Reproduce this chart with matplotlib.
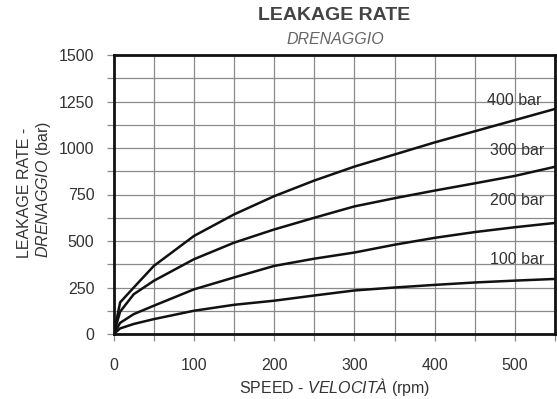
import matplotlib
matplotlib.use("Agg")
import matplotlib.pyplot as plt
import numpy as np

speed = [0, 8, 25, 50, 100, 150, 200, 250, 300, 350, 400, 450, 500, 550]
leak_400 = [0, 170, 250, 366, 527, 643, 741, 825, 900, 965, 1030, 1090, 1150, 1210]
leak_300 = [0, 120, 214, 286, 402, 491, 562, 625, 686, 730, 771, 810, 850, 899]
leak_200 = [0, 60, 107, 152, 240, 304, 366, 405, 438, 480, 517, 548, 574, 597]
leak_100 = [0, 30, 54, 80, 125, 157, 179, 207, 234, 250, 264, 277, 287, 296]
series_labels = ["400 bar", "300 bar", "200 bar", "100 bar"]
label_pos = [(499, 1253), (503, 984), (503, 720), (503, 398)]
x_ticks = [0, 100, 200, 300, 400, 500]
y_ticks = [0, 250, 500, 750, 1000, 1250, 1500]

plt.rcParams['font.family'] = ['Liberation Sans', 'DejaVu Sans']
plt.rcParams['mathtext.fontset'] = 'custom'
plt.rcParams['mathtext.it'] = 'Liberation Sans:italic'
plt.rcParams['mathtext.rm'] = 'Liberation Sans'

W, H = 557, 399
fig = plt.figure(figsize=(W/100, H/100), dpi=100)
L, R, T, B = 113.7, 555, 55, 334
ax = fig.add_axes([L/W, 1-B/H, (R-L)/W, (B-T)/H])

for ys in [leak_400, leak_300, leak_200, leak_100]:
    ax.plot(speed, ys, color='#111111', lw=1.8, zorder=3, solid_joinstyle='round')

for lab, (x, y) in zip(series_labels, label_pos):
    ax.text(x, y, lab, fontsize=11.5, ha='center', va='center', color='#333333', zorder=4)

ax.set_xlim(0, 550)
ax.set_ylim(0, 1500)
ax.set_xticks(x_ticks)
ax.set_yticks(y_ticks)
ax.set_xticks(np.arange(0, 551, 50), minor=True)
ax.set_yticks(np.arange(0, 1501, 125), minor=True)
ax.grid(which='both', color='#8a8a8a', lw=0.9, zorder=1)
ax.tick_params(which='both', direction='out', length=5, width=0.9, color='#8a8a8a',
               labelsize=11.5, labelcolor='#333333')
ax.tick_params(axis='x', which='major', pad=12)
ax.tick_params(axis='y', which='major', pad=9)
for s in ax.spines.values():
    s.set_linewidth(2.0)
    s.set_color('#111111')

fig.text(334/W, 1-15/H, "LEAKAGE RATE", ha='center', va='center', fontsize=14,
         fontweight='bold', color='#444444')
fig.text(335/W, 1-39/H, "DRENAGGIO", ha='center', va='center', fontsize=11.5,
         style='italic', color='#666666')

fig.text(35/W, 1-258/H, "LEAKAGE RATE -\n$\\mathit{DRENAGGIO}$ (bar)", rotation=90,
         ha='center', va='bottom', multialignment='left', fontsize=11.5,
         color='#333333', linespacing=1.1)

fig.text(334.7/W, 1-387/H, "SPEED - $\\mathit{VELOCITÀ}$ (rpm)", ha='center', va='center',
         fontsize=11.5, color='#333333')

fig.savefig("out.png", dpi=100)
